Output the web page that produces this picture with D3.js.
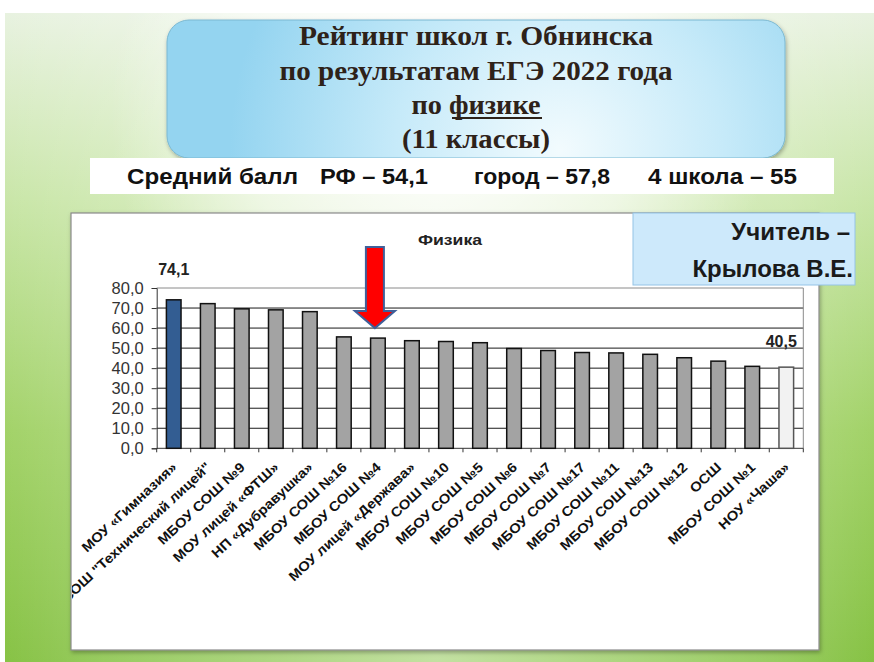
<!DOCTYPE html>
<html><head><meta charset="utf-8">
<script src="https://cdn.jsdelivr.net/npm/d3@7"></script>
<style>html,body{margin:0;padding:0;background:#fff;}svg{display:block;}</style>
</head><body>
<script>
const categories = ["МОУ «Гимназия»","МБОУ СОШ \"Технический лицей\"","МБОУ СОШ №9","МОУ лицей «ФТШ»","НП «Дубравушка»","МБОУ СОШ №16","МБОУ СОШ №4","МОУ лицей «Держава»","МБОУ СОШ №10","МБОУ СОШ №5","МБОУ СОШ №6","МБОУ СОШ №7","МБОУ СОШ №17","МБОУ СОШ №11","МБОУ СОШ №13","МБОУ СОШ №12","ОСШ","МБОУ СОШ №1","НОУ «Чаша»"];
const values = [74.1,72.2,69.6,69.1,68.2,55.6,55.0,53.7,53.3,52.7,49.8,48.8,47.8,47.6,46.9,45.2,43.5,40.9,40.5];
const yTicks = [0,10,20,30,40,50,60,70,80];
const labeled = ["МОУ «Гимназия»","НОУ «Чаша»"];
const highlighted = "МБОУ СОШ №4";
const titleLines = ["Рейтинг школ  г. Обнинска","по результатам  ЕГЭ 2022 года","по физике","(11 классы)"];
const summary = ["Средний балл","РФ – 54,1","город – 57,8","4 школа – 55"];
const chartTitle = "Физика";
const teacher = ["Учитель –","Крылова В.Е."];

const W=874,H=662;
const svg=d3.select("body").append("svg").attr("width",W).attr("height",H);
const defs=svg.append("defs");

// background
const bg=defs.append("linearGradient").attr("id","bgv").attr("x1",0).attr("y1",0).attr("x2",0).attr("y2",1);
bg.append("stop").attr("offset","0").attr("stop-color","#eaf3e4");
bg.append("stop").attr("offset","0.3").attr("stop-color","#c9e6a8");
bg.append("stop").attr("offset","0.65").attr("stop-color","#a2d268");
bg.append("stop").attr("offset","1").attr("stop-color","#86c244");
const hg=defs.append("linearGradient").attr("id","bgh").attr("x1",0).attr("y1",0).attr("x2",1).attr("y2",0);
hg.append("stop").attr("offset","0").attr("stop-color","#ffffff").attr("stop-opacity",0);
hg.append("stop").attr("offset","0.12").attr("stop-color","#ffffff").attr("stop-opacity",0.15);
hg.append("stop").attr("offset","0.5").attr("stop-color","#ffffff").attr("stop-opacity",0.5);
hg.append("stop").attr("offset","0.9").attr("stop-color","#ffffff").attr("stop-opacity",0.15);
hg.append("stop").attr("offset","1").attr("stop-color","#ffffff").attr("stop-opacity",0);
const rg=defs.append("radialGradient").attr("id","bgr").attr("gradientUnits","userSpaceOnUse")
  .attr("cx",440).attr("cy",110).attr("r",330);
rg.append("stop").attr("offset","0").attr("stop-color","#ffffff").attr("stop-opacity",0.95);
rg.append("stop").attr("offset","0.6").attr("stop-color","#ffffff").attr("stop-opacity",0.55);
rg.append("stop").attr("offset","1").attr("stop-color","#ffffff").attr("stop-opacity",0);
svg.append("rect").attr("width",W).attr("height",H).attr("fill","url(#bgv)");
svg.append("rect").attr("width",W).attr("height",H).attr("fill","url(#bgh)");
svg.append("rect").attr("width",W).attr("height",H).attr("fill","url(#bgr)");
svg.append("rect").attr("width",W).attr("height",13).attr("fill","#ffffff");
svg.append("rect").attr("width",5).attr("height",H).attr("fill","#ffffff");

// title box
const tg=defs.append("radialGradient").attr("id","tg").attr("gradientUnits","userSpaceOnUse")
  .attr("cx",560).attr("cy",150).attr("r",330);
tg.append("stop").attr("offset","0").attr("stop-color","#f2fbfe");
tg.append("stop").attr("offset","0.5").attr("stop-color","#c6eaf9");
tg.append("stop").attr("offset","1").attr("stop-color","#94d4f0");
const sh=defs.append("filter").attr("id","sh").attr("x","-10%").attr("y","-10%").attr("width","120%").attr("height","130%");
sh.append("feDropShadow").attr("dx",1).attr("dy",2).attr("stdDeviation",2).attr("flood-color","#000").attr("flood-opacity",0.3);
svg.append("rect").attr("x",167).attr("y",20).attr("width",618).attr("height",138).attr("rx",22)
  .attr("fill","url(#tg)").attr("stroke","#7ab8d2").attr("stroke-width",1).attr("filter","url(#sh)");
const tBase=[45,80,114,148], tWidth=[354,393,129,148];
titleLines.forEach((t,i)=>{
  svg.append("text").attr("x",476).attr("y",tBase[i]).attr("text-anchor","middle")
    .attr("font-family","'Liberation Serif','Times New Roman',serif").attr("font-weight","bold")
    .attr("font-size",27).attr("fill","#2e2219")
    .attr("textLength",tWidth[i]).attr("lengthAdjust","spacingAndGlyphs").text(t);
});
svg.append("line").attr("x1",452).attr("x2",542).attr("y1",118).attr("y2",118).attr("stroke","#2e2219").attr("stroke-width",1.8);

// summary band
svg.append("rect").attr("x",90).attr("y",158).attr("width",744).attr("height",36).attr("fill","#ffffff");
const sx=[127,320,474,648], sw=[171,108,136,149];
summary.forEach((t,i)=>{
  svg.append("text").attr("x",sx[i]).attr("y",184).text(t)
    .attr("font-family","'Liberation Sans',Arial,sans-serif").attr("font-weight","bold")
    .attr("font-size",22).attr("fill","#111")
    .attr("textLength",sw[i]).attr("lengthAdjust","spacingAndGlyphs");
});

// chart panel
svg.append("rect").attr("x",71).attr("y",213).attr("width",748).attr("height",437)
  .attr("fill","#ffffff").attr("stroke","#8a8a8a").attr("stroke-width",1.2).attr("filter","url(#sh)");
defs.append("clipPath").attr("id","pc").append("rect").attr("x",72).attr("y",214).attr("width",746).attr("height",435);
const g=svg.append("g").attr("clip-path","url(#pc)");

const x=d3.scaleBand().domain(categories).range([156.7,803.3]).paddingInner(0.57).paddingOuter(0.285);
const y=d3.scaleLinear().domain([0,80]).range([448.3,288]);

// gridlines
g.append("g").selectAll("line").data(yTicks.filter(d=>d>0)).join("line")
  .attr("x1",156.7).attr("x2",803.3).attr("y1",d=>y(d)).attr("y2",d=>y(d))
  .attr("stroke",d=>d===80?"#8a8a8a":"#1a1a1a").attr("stroke-width",1);
g.append("line").attr("x1",803.3).attr("x2",803.3).attr("y1",y(80)).attr("y2",y(0)).attr("stroke","#8a8a8a");

// y axis
const yAxis=d3.axisLeft(y).tickValues(yTicks).tickSize(5).tickFormat(d=>d3.format(".1f")(d).replace(".",","));
const ya=g.append("g").attr("transform","translate(156.7,0)").call(yAxis);
ya.select(".domain").attr("stroke","#333");
ya.selectAll(".tick line").attr("stroke","#333");
ya.selectAll("text").attr("font-family","'Liberation Sans',Arial,sans-serif").attr("font-size",16.5)
  .attr("fill","#333").attr("x",-13);

// x axis
const xa=g.append("g").attr("transform","translate(0,448.3)");
xa.append("line").attr("x1",156.7).attr("x2",803.3).attr("stroke","#333");
xa.selectAll("line.t").data(d3.range(categories.length+1)).join("line").attr("class","t")
  .attr("x1",i=>156.7+i*x.step()).attr("x2",i=>156.7+i*x.step()).attr("y1",0).attr("y2",4).attr("stroke","#333");
xa.selectAll("text").data(categories).join("text")
  .attr("transform",d=>`translate(${x(d)+x.bandwidth()/2+4},20) rotate(-43) scale(1.1,1)`)
  .attr("text-anchor","end").text(d=>d)
  .attr("font-family","'Liberation Sans',Arial,sans-serif").attr("font-weight","bold")
  .attr("font-size",13.5).attr("fill","#111");

// bars
g.append("g").selectAll("rect").data(categories).join("rect")
  .attr("x",d=>x(d)).attr("width",x.bandwidth())
  .attr("y",(d,i)=>y(values[i])).attr("height",(d,i)=>y(0)-y(values[i]))
  .attr("fill",(d,i)=>i===0?"#335d92":(i===categories.length-1?"#f2f2f2":"#a3a3a3"))
  .attr("stroke",(d,i)=>i===categories.length-1?"#555":"#111").attr("stroke-width",1.5);

// value labels
g.append("g").selectAll("text").data(categories.filter(d=>labeled.includes(d))).join("text")
  .attr("x",d=>x(d)+x.bandwidth()/2-(d===categories[categories.length-1]?5:0))
  .attr("y",d=>y(values[categories.indexOf(d)])-(d===categories[0]?25:20))
  .attr("text-anchor","middle").text(d=>d3.format(".1f")(values[categories.indexOf(d)]).replace(".",","))
  .attr("font-family","'Liberation Sans',Arial,sans-serif").attr("font-weight","bold").attr("font-size",16).attr("fill","#222");

// chart title
g.append("text").attr("x",450).attr("y",245).attr("text-anchor","middle").text(chartTitle)
  .attr("font-family","'Liberation Sans',Arial,sans-serif").attr("font-weight","bold").attr("font-size",14).attr("fill","#222")
  .attr("textLength",64).attr("lengthAdjust","spacingAndGlyphs");

// arrow
const ax=x(highlighted)+x.bandwidth()/2-3;
const tipY=y(values[categories.indexOf(highlighted)])-10;
const arrow=d3.path();
arrow.moveTo(ax-9,247);arrow.lineTo(ax+9,247);arrow.lineTo(ax+9,tipY-17);arrow.lineTo(ax+20,tipY-17);
arrow.lineTo(ax,tipY);arrow.lineTo(ax-20,tipY-17);arrow.lineTo(ax-9,tipY-17);arrow.closePath();
svg.append("path").attr("d",arrow.toString()).attr("fill","#ff0000").attr("stroke","#3f5f9a").attr("stroke-width",2).attr("stroke-linejoin","miter");

// teacher box
svg.append("rect").attr("x",633).attr("y",213).attr("width",222).attr("height",72)
  .attr("fill","#cde9fb").attr("stroke","#94c3e6").attr("stroke-width",1);
teacher.forEach((t,i)=>{
  svg.append("text").attr("x",i===0?850:853).attr("y",i===0?240:277).attr("text-anchor","end").text(t)
    .attr("font-family","'Liberation Sans',Arial,sans-serif").attr("font-weight","bold").attr("font-size",24).attr("fill","#1a1a1a");
});
</script>
</body></html>
